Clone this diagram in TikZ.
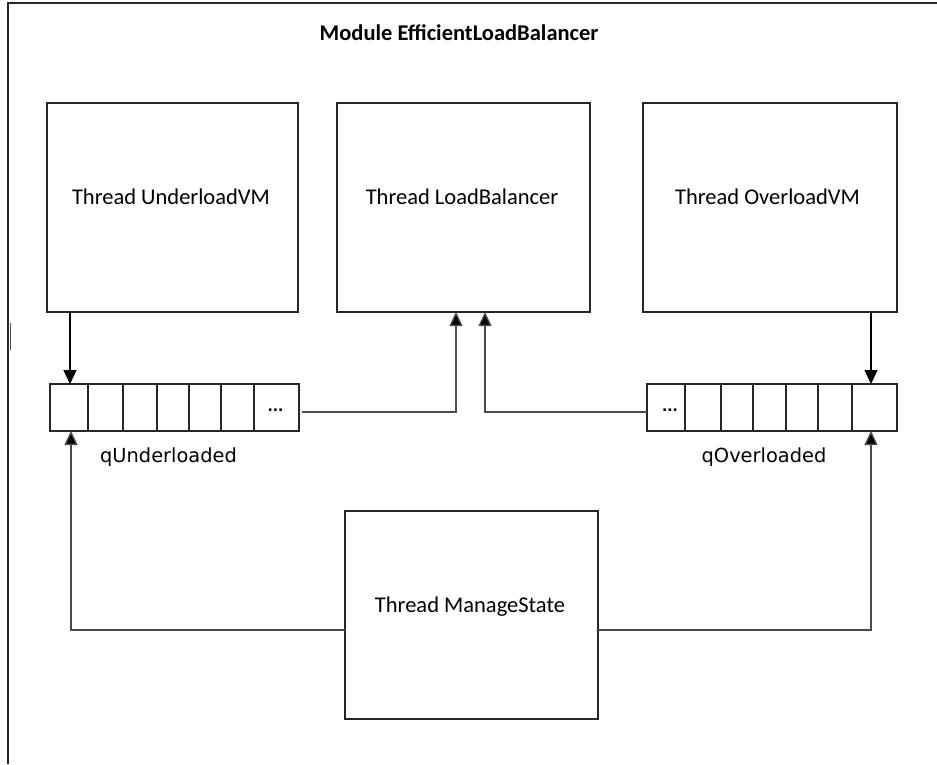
\documentclass[tikz,border=0pt]{standalone}
\usepackage{fontspec}
\setmainfont{Carlito}
\newfontfamily\dejavu{DejaVu Sans}
\usetikzlibrary{arrows.meta}
\begin{document}
\begin{tikzpicture}[x=1pt,y=-1pt,
  tbox/.style={draw=black!85, line width=1.3pt, inner sep=0pt, outer sep=0pt, minimum height=209pt},
  ttext/.style={font=\fontsize{22.5}{27}\selectfont, inner sep=0pt},
  titletext/.style={font=\bfseries\fontsize{22.5}{27}\selectfont, inner sep=0pt},
  qcell/.style={draw=black!85, line width=1.3pt, inner sep=0pt, outer sep=0pt, minimum height=47pt},
  qlabel/.style={font=\dejavu\fontsize{19.4}{23}\selectfont, inner sep=0pt},
  qdots/.style={font=\dejavu\bfseries\fontsize{14}{16}\selectfont, inner sep=0pt},
  frameline/.style={draw=black!85, line width=1.4pt},
  link/.style={draw=black!70, line width=1.3pt, -{Triangle[width=13pt,length=14pt,fill=black]}},
  push/.style={draw=black, line width=1.3pt, -{Triangle[width=13pt,length=14pt,fill=black]}}
]
\useasboundingbox (0,0) rectangle (937,764);
% outer frame (top and left edges visible)
\draw[frameline] (937,3) -- (8,3) -- (8,764);
\draw[draw=black!70, line width=1pt] (10,323) -- (10,350);

% title
\node[titletext] (title) at (459,33) {Module EfficientLoadBalancer};

% thread boxes
\node[tbox, minimum width=251pt] (uvm) at (172.5,207.5) {};
\node[ttext] (uvmt) at (171,197) {Thread UnderloadVM};
\node[tbox, minimum width=253pt] (lb) at (463.5,207.5) {};
\node[ttext] (lbt) at (462,197) {Thread LoadBalancer};
\node[tbox, minimum width=254pt] (ovm) at (770,207.5) {};
\node[ttext] (ovmt) at (767.5,197) {Thread OverloadVM};
\node[tbox, minimum width=253pt, minimum height=208pt] (ms) at (471.5,615) {};
\node[ttext] (mst) at (470,607) {Thread ManageState};

% queue qUnderloaded
\node[qcell, minimum width=38pt] (u1) at (69,407.5) {};
\node[qcell, minimum width=35pt] (u2) at (105.5,407.5) {};
\node[qcell, minimum width=34pt] (u3) at (140,407.5) {};
\node[qcell, minimum width=32pt] (u4) at (173,407.5) {};
\node[qcell, minimum width=32pt] (u5) at (205,407.5) {};
\node[qcell, minimum width=33pt] (u6) at (237.5,407.5) {};
\node[qcell, minimum width=45pt] (u7) at (276.5,407.5) {};
\node[qdots] (u7d) at (275.5,410) {...};
\node[qlabel] (qul) at (168.5,457) {qUnderloaded};

% queue qOverloaded
\node[qcell, minimum width=38pt] (o1) at (666,407.5) {};
\node[qdots] (o1d) at (670,410) {...};
\node[qcell, minimum width=36pt] (o2) at (703,407.5) {};
\node[qcell, minimum width=32pt] (o3) at (737,407.5) {};
\node[qcell, minimum width=33pt] (o4) at (769.5,407.5) {};
\node[qcell, minimum width=32pt] (o5) at (802,407.5) {};
\node[qcell, minimum width=34pt] (o6) at (835,407.5) {};
\node[qcell, minimum width=45pt] (o7) at (874.5,407.5) {};
\node[qlabel] (qol) at (764,457) {qOverloaded};

% connectors
\draw[push] ([xshift=-102.5pt]uvm.south) -- ([xshift=1pt]u1.north);
\draw[push] ([xshift=101pt]ovm.south) -- ([xshift=-3.5pt]o7.north);
\draw[link] ([xshift=3pt,yshift=-4.5pt]u7.east) -| ([xshift=-7.5pt]lb.south);
\draw[link] ([yshift=-4.5pt]o1.west) -| ([xshift=21.5pt]lb.south);
\draw[link] ([yshift=-15pt]ms.west) -| ([xshift=2pt]u1.south);
\draw[link] ([yshift=-15pt]ms.east) -| ([xshift=-3.5pt]o7.south);
\end{tikzpicture}
\end{document}
